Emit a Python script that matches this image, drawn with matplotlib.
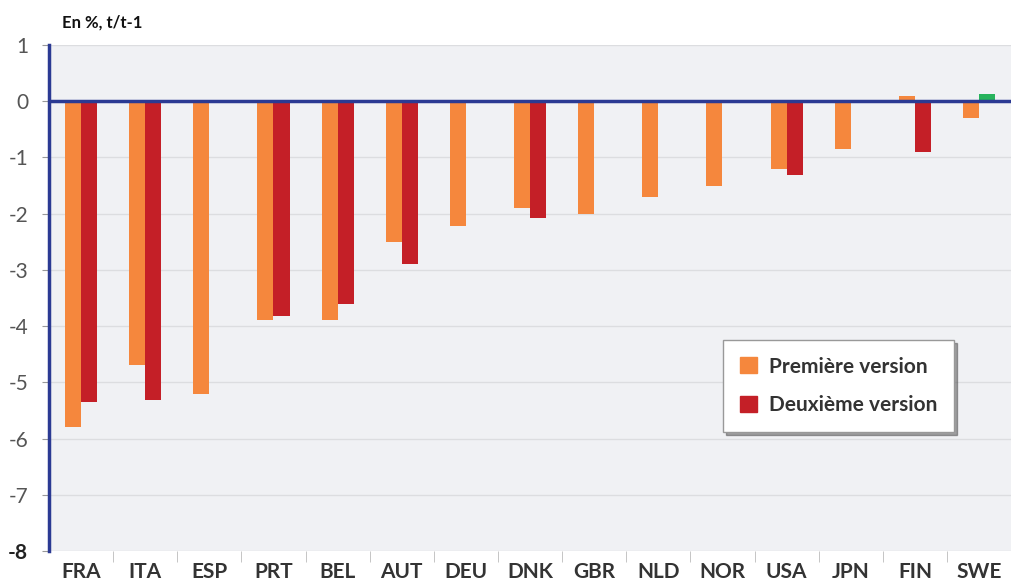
import numpy as np
import matplotlib.pyplot as plt
from matplotlib.patches import Patch

# data
countries = ['FRA', 'ITA', 'ESP', 'PRT', 'BEL', 'AUT', 'DEU', 'DNK', 'GBR', 'NLD', 'NOR', 'USA', 'JPN', 'FIN', 'SWE']
premiere = [-5.8, -4.7, -5.2, -3.9, -3.9, -2.5, -2.22, -1.9, -2.0, -1.7, -1.5, -1.2, -0.85, 0.1, -0.3]
deuxieme = [-5.35, -5.32, np.nan, -3.82, -3.6, -2.9, np.nan, -2.08, np.nan, np.nan, np.nan, -1.32, np.nan, -0.9, 0.13]

orange = '#f5873d'
red = '#c41f27'
green = '#27b35c'
blue = '#2b3a93'
deux_colors = [green if v > 0 else red for v in deuxieme]

plt.rcParams['font.family'] = ['Lato', 'DejaVu Sans']

fig = plt.figure(figsize=(10.16, 5.83), dpi=100)
ax = fig.add_axes([0.0482, 0.0549, 0.947, 0.868])
ax.set_facecolor('#f0f1f4')

x = np.arange(len(countries))
w = 0.25
ax.bar(x - w / 2, premiere, w, color=orange, zorder=3)
ax.bar(x + w / 2, deuxieme, w, color=deux_colors, zorder=3)

ax.set_xlim(-0.5, len(countries) - 0.5)
ax.set_ylim(-8, 1)
ax.set_yticks(range(-8, 2))
ax.set_yticklabels([str(v) for v in range(-8, 2)], fontsize=15, color='#555555')
lab8 = ax.get_yticklabels()[0]
lab8.set_color('#222222')
lab8.set_fontweight('bold')
ax.tick_params(axis='y', length=5, color='#999999', pad=10)

ax.set_xticks(x)
ax.set_xticklabels(countries, fontsize=15, fontweight='bold', color='#333333')
ax.tick_params(axis='x', length=0, pad=8)
ax.set_xticks(np.arange(0.5, len(countries) - 1), minor=True)
ax.tick_params(axis='x', which='minor', length=8, color='#bbbbbb')

ax.grid(axis='y', color='#dcdde0', lw=1, zorder=0)
ax.axhline(0, color=blue, lw=2.5, zorder=4)
for s in ['top', 'right', 'bottom']:
    ax.spines[s].set_visible(False)
ax.spines['left'].set_color(blue)
ax.spines['left'].set_linewidth(2.5)

fig.text(0.061, 0.962, 'En %, t/t-1', fontsize=12, fontweight='bold', color='#111111', va='center')

handles = [Patch(color=orange, label='Première version'), Patch(color=red, label='Deuxième version')]
leg = ax.legend(handles=handles, loc='lower left', bbox_to_anchor=(0.701, 0.235),
                fontsize=15, frameon=True, fancybox=False, shadow=True, framealpha=1,
                handlelength=0.8, handleheight=0.8, handletextpad=0.6,
                borderpad=0.8, labelspacing=0.9, borderaxespad=0)
leg.get_frame().set_edgecolor('#999999')
for t in leg.get_texts():
    t.set_fontweight('bold')
    t.set_color('#333333')

fig.savefig('out.png', dpi=100)
